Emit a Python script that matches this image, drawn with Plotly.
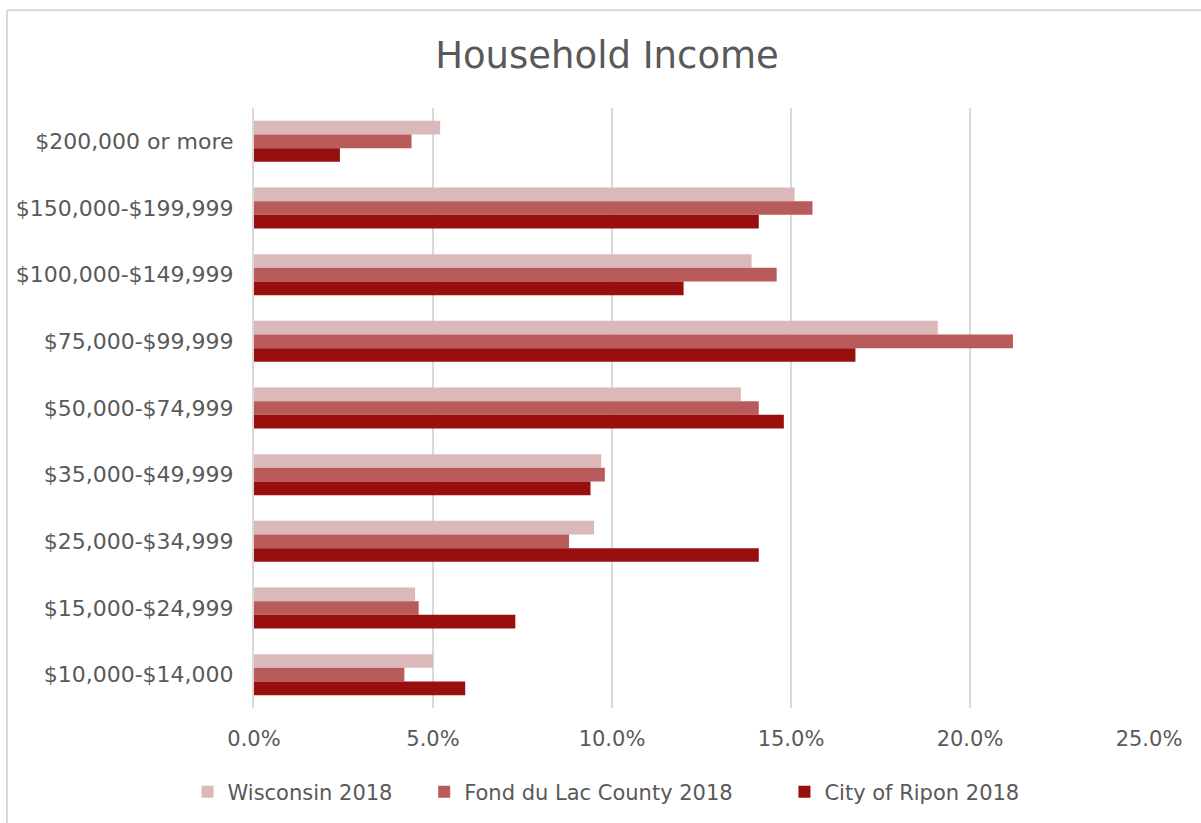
import plotly.graph_objects as go

# Income brackets, listed top to bottom
categories = [
    "$200,000 or more",
    "$150,000-$199,999",
    "$100,000-$149,999",
    "$75,000-$99,999",
    "$50,000-$74,999",
    "$35,000-$49,999",
    "$25,000-$34,999",
    "$15,000-$24,999",
    "$10,000-$14,000",
]

# Share of households (fraction) per bracket
wisconsin_2018 = [0.052, 0.151, 0.139, 0.191, 0.136, 0.097, 0.095, 0.045, 0.050]
fond_du_lac_2018 = [0.044, 0.156, 0.146, 0.212, 0.141, 0.098, 0.088, 0.046, 0.042]
ripon_2018 = [0.024, 0.141, 0.120, 0.168, 0.148, 0.094, 0.141, 0.073, 0.059]

x_ticks = [0, 0.05, 0.10, 0.15, 0.20, 0.25]

series_names = ["Wisconsin 2018", "Fond du Lac County 2018", "City of Ripon 2018"]
series_colors = ["#DBB8B9", "#B95B5A", "#980F0D"]
series_values = [wisconsin_2018, fond_du_lac_2018, ripon_2018]

FONT = "Century Gothic, DejaVu Sans, sans-serif"
TEXT_GREY = "#595959"
GRID = "#D9D9D9"
NBSP = "\u00a0"
# trailing non-breaking spaces widen the gap after each legend entry
legend_pad = [4, 7, 0]

fig = go.Figure()
for name, vals, color, pad in zip(series_names, series_values, series_colors, legend_pad):
    fig.add_trace(go.Bar(
        y=categories,
        x=vals,
        name=name + NBSP * pad,
        orientation="h",
        marker=dict(color=color, line=dict(width=0)),
    ))

W, H = 1201, 823
ml, mr, mt, mb = 254, 52, 108, 114
pw, ph = W - ml - mr, H - mt - mb


def px_x(px):
    return (px - ml) / pw


def px_y(py):
    return (H - mb - py) / ph


fig.update_layout(
    width=W,
    height=H,
    margin=dict(l=ml, r=mr, t=mt, b=mb),
    paper_bgcolor="white",
    plot_bgcolor="white",
    barmode="group",
    bargap=0.385,
    bargroupgap=0,
    font=dict(family=FONT, color=TEXT_GREY, size=21),
    title=dict(
        text="Household Income",
        x=607 / W,
        xref="container",
        xanchor="center",
        y=1 - 55 / H,
        yref="container",
        yanchor="middle",
        font=dict(family=FONT, size=37, color=TEXT_GREY),
    ),
    xaxis=dict(
        range=[0, 0.25],
        tickvals=x_ticks,
        tickformat=".1%",
        showgrid=True,
        gridcolor=GRID,
        gridwidth=2,
        zeroline=False,
        showline=False,
        ticks="",
        ticklabelstandoff=16,
        tickfont=dict(size=21, color=TEXT_GREY),
    ),
    yaxis=dict(
        categoryorder="array",
        categoryarray=categories,
        autorange="reversed",
        showgrid=False,
        zeroline=False,
        showline=True,
        linecolor=GRID,
        linewidth=2,
        ticks="",
        ticklabelstandoff=14,
        tickfont=dict(size=22, color=TEXT_GREY),
    ),
    legend=dict(
        orientation="h",
        x=px_x(606),
        xanchor="center",
        y=px_y(792),
        yanchor="middle",
        font=dict(size=21, color=TEXT_GREY),
        itemwidth=30,
        traceorder="normal",
    ),
    shapes=[
        # chart frame: top and left edges
        dict(type="line", xref="paper", yref="paper",
             x0=px_x(7), x1=px_x(W + 5), y0=px_y(10), y1=px_y(10),
             line=dict(color=GRID, width=2)),
        dict(type="line", xref="paper", yref="paper",
             x0=px_x(7), x1=px_x(7), y0=px_y(10), y1=px_y(H + 5),
             line=dict(color=GRID, width=2)),
    ],
)

fig.write_html("out.html")
